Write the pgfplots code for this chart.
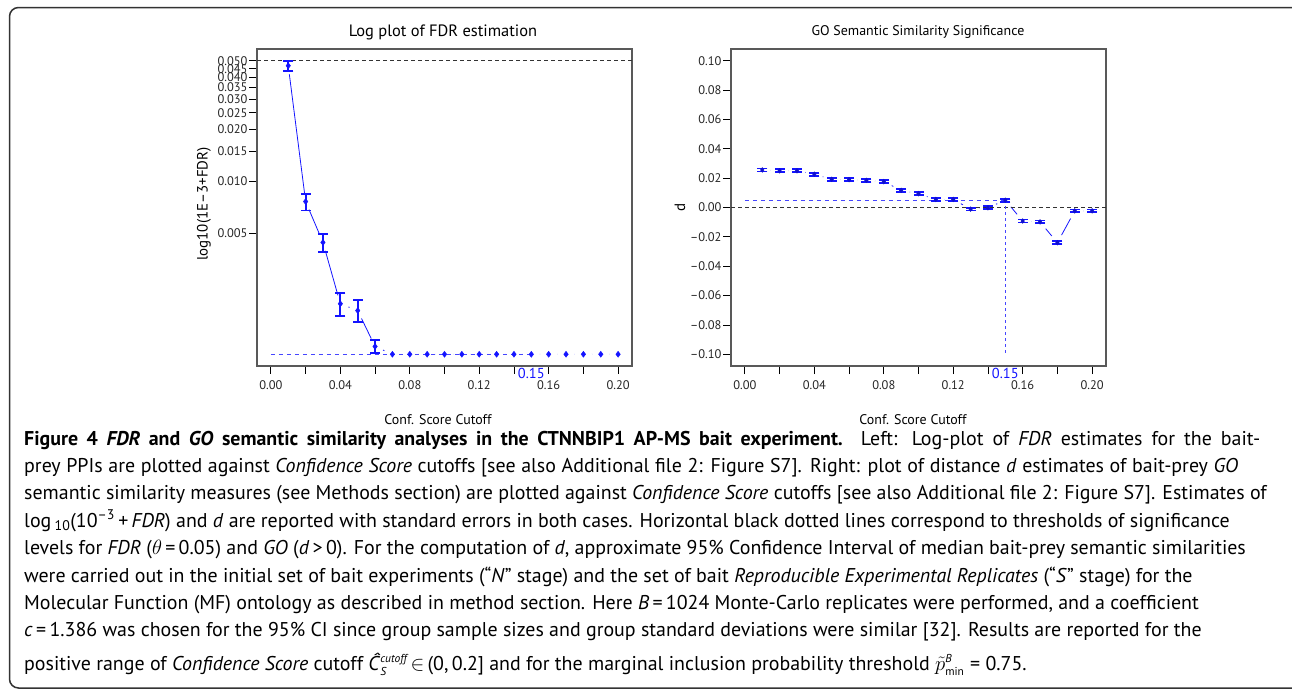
\documentclass[border=0pt]{standalone}
\usepackage{fontspec}
\setmainfont{PT Sans}
\usepackage{pgfplots}
\pgfplotsset{compat=1.18}
\usepackage{pgfplotstable}

\pgfplotstableread{
x y
0.01 0.0468
0.02 0.00766
0.03 0.00444
0.04 0.00196
0.05 0.00179
0.06 0.00111
0.07 0.001
0.08 0.001
0.09 0.001
0.10 0.001
0.11 0.001
0.12 0.001
0.13 0.001
0.14 0.001
0.15 0.001
0.16 0.001
0.17 0.001
0.18 0.001
0.19 0.001
0.20 0.001
}\fdrdata

\pgfplotstableread{
x d lo hi
0.01 0.0256 0.0246 0.0266
0.02 0.0250 0.0240 0.0260
0.03 0.0250 0.0240 0.0260
0.04 0.0227 0.0217 0.0237
0.05 0.0192 0.0182 0.0202
0.06 0.0190 0.0180 0.0200
0.07 0.0185 0.0175 0.0195
0.08 0.0176 0.0166 0.0186
0.09 0.0117 0.0107 0.0127
0.10 0.0094 0.0084 0.0104
0.11 0.0055 0.0045 0.0065
0.12 0.0055 0.0045 0.0065
0.13 -0.0011 -0.0021 -0.0001
0.14 -0.0002 -0.0012 0.0008
0.15 0.0050 0.0040 0.0060
0.16 -0.0092 -0.0102 -0.0082
0.17 -0.0098 -0.0108 -0.0088
0.18 -0.0240 -0.0250 -0.0230
0.19 -0.0023 -0.0033 -0.0013
0.20 -0.0023 -0.0033 -0.0013
}\godata

\newcommand\capfont{\fontsize{20}{24}\selectfont}
\definecolor{plotblue}{RGB}{20,20,255}
\definecolor{refblue}{RGB}{70,70,255}

\pgfplotsset{
  commonaxis/.style={
    scale only axis, width=375bp, height=317bp, anchor=south west,
    clip=false, clip marker paths=true,
    xmin=-0.008, xmax=0.208,
    axis line style={black!65, line width=1.3pt},
    tick align=outside, tick pos=left,
    major tick length=8bp,
    tick style={black, line width=0.8pt},
    xtick={0,0.02,0.04,0.06,0.08,0.1,0.12,0.14,0.16,0.18,0.2},
    xticklabels={0.00,,0.04,,0.08,,0.12,,0.16,,0.20},
    tick label style={font=\fontsize{12.5}{13}\selectfont, text=black!85},
    xticklabel style={yshift=-3bp},
    yticklabel style={xshift=2bp},
    /pgf/number format/assume math mode=true,
  },
  ebar/.style={plotblue, line width=1.8pt, mark=-, mark size=5bp, mark options={solid, line width=1.8pt}},
}

\begin{document}
\begin{tikzpicture}
\useasboundingbox (0,0) rectangle (1292bp,-689bp);

% ---------- left plot ----------
\begin{axis}[commonaxis, at={(257bp,-366bp)},
  ymode=log, ymin=0.000855, ymax=0.0585,
  ytick={0.005,0.01,0.015,0.02,0.025,0.03,0.035,0.04,0.045,0.05},
  yticklabels={0.005,0.010,0.015,0.020,0.025,0.030,0.035,0.040,0.045,0.050},
  yminorticks=false,
]
\addplot[plotblue, line width=0.8pt, mark=none] table[x=x,y=y] {\fdrdata};
\addplot[only marks, mark=*, mark size=8.5bp, white, mark options={fill=white, draw=none}] table[x=x,y=y] {\fdrdata};
\addplot[black!80, line width=0.9pt, dash pattern=on 4bp off 3bp, mark=none] coordinates {(-0.008,0.05) (0.208,0.05)};
\addplot[refblue, line width=0.9pt, dash pattern=on 4bp off 4bp, mark=none] coordinates {(0,0.001) (0.15,0.001)};
\addplot[ebar] coordinates {(0.01,0.0436) (0.01,0.050)};
\addplot[ebar] coordinates {(0.02,0.00679) (0.02,0.00849)};
\addplot[ebar] coordinates {(0.03,0.0039) (0.03,0.00499)};
\addplot[ebar] coordinates {(0.04,0.00167) (0.04,0.00226)};
\addplot[ebar] coordinates {(0.05,0.00153) (0.05,0.00207)};
\addplot[ebar] coordinates {(0.06,0.00102) (0.06,0.00121)};
\addplot[only marks, mark=diamond*, mark size=3bp, plotblue] table[x=x,y=y] {\fdrdata};
\node[text=plotblue, font=\fontsize{14.5}{14.5}\selectfont, inner sep=0pt, anchor=center]
  at (axis cs:0.15,0.000855) [yshift=-7bp] {0.15};
\end{axis}

% ---------- right plot ----------
\begin{axis}[commonaxis, at={(731bp,-366bp)},
  ymin=-0.108, ymax=0.108,
  ytick={-0.1,-0.08,-0.06,-0.04,-0.02,0,0.02,0.04,0.06,0.08,0.1},
  yticklabels={–0.10,–0.08,–0.06,–0.04,–0.02,0.00,0.02,0.04,0.06,0.08,0.10},
]
\addplot[plotblue, line width=0.8pt, mark=none] table[x=x,y=d] {\godata};
\addplot[only marks, mark=*, mark size=8.5bp, white, mark options={fill=white, draw=none}] table[x=x,y=d] {\godata};
\addplot[black!80, line width=0.9pt, dash pattern=on 4bp off 3bp, mark=none] coordinates {(-0.008,0) (0.208,0)};
\addplot[refblue, line width=0.9pt, dash pattern=on 4bp off 4bp, mark=none] coordinates {(0,0.005) (0.15,0.005)};
\addplot[refblue, line width=1.1pt, dash pattern=on 3bp off 3bp, mark=none] coordinates {(0.15,0.005) (0.15,-0.1)};
\addplot[only marks, mark=-, mark size=5bp, plotblue, mark options={line width=1.8pt}] table[x=x,y=lo] {\godata};
\addplot[only marks, mark=-, mark size=5bp, plotblue, mark options={line width=1.8pt}] table[x=x,y=hi] {\godata};
\addplot[only marks, mark=diamond*, mark size=2.4bp, plotblue!80!black] table[x=x,y=d] {\godata};
\node[text=plotblue, font=\fontsize{14.5}{14.5}\selectfont, inner sep=0pt, anchor=center]
  at (axis cs:0.15,-0.108) [yshift=-7bp] {0.15};
\end{axis}

\begin{scope}[x=1bp, y=-1bp]
% frame
\draw[line width=1.5bp, black!80, rounded corners=9bp] (9.5,7.5) rectangle (1320,688);
% titles and labels
\node[font=\fontsize{16.5}{17}\selectfont] at (443,32) {Log plot of FDR estimation};
\node[font=\fontsize{14}{15}\selectfont] at (918,32) {GO Semantic Similarity Significance};
\node[font=\fontsize{14}{15}\selectfont] at (438,420) {Conf. Score Cutoff};
\node[font=\fontsize{14}{15}\selectfont] at (913,420) {Conf. Score Cutoff};
\node[font=\fontsize{15}{15}\selectfont, rotate=90] at (204,204) {log10(1E–3+FDR)};
\node[font=\fontsize{15}{15}\selectfont, rotate=90] at (680,207) {d};
% caption
\begin{scope}[every node/.style={anchor=base west, inner sep=0pt, font=\capfont}]
\node at (24,445) {\makebox[1236bp][s]{\textbf{Figure 4 \textit{FDR} and \textit{GO} semantic similarity analyses in the CTNNBIP1 AP-MS bait experiment.} Left: Log-plot of \textit{FDR} estimates for the bait-}};
\node at (24,472.4) {\makebox[1214bp][s]{prey PPIs are plotted against \textit{Confidence Score} cutoffs [see also Additional file 2: Figure S7]. Right: plot of distance \textit{d} estimates of bait-prey \textit{GO}}};
\node at (24,499.8) {semantic similarity measures (see Methods section) are plotted against \textit{Confidence Score} cutoffs [see also Additional file 2: Figure S7]. Estimates of};
\node at (24,527.2) {log\,\textsubscript{10}(10\textsuperscript{–3}\,+\,\textit{FDR}) and \textit{d} are reported with standard errors in both cases. Horizontal black dotted lines correspond to thresholds of significance};
\node at (24,554.6) {levels for \textit{FDR} ($\theta$\,=\,0.05) and \textit{GO} (\textit{d}\,>\,0). For the computation of \textit{d}, approximate 95\% Confidence Interval of median bait-prey semantic similarities};
\node at (24,582) {were carried out in the initial set of bait experiments (“\textit{N}” stage) and the set of bait \textit{Reproducible Experimental Replicates} (“\textit{S}” stage) for the};
\node at (24,609.4) {Molecular Function (MF) ontology as described in method section. Here \textit{B}\,=\,1024 Monte-Carlo replicates were performed, and a coefficient};
\node at (24,636.8) {\textit{c}\,=\,1.386 was chosen for the 95\% CI since group sample sizes and group standard deviations were similar [32]. Results are reported for the};
\node at (24,670) {positive range of \textit{Confidence Score} cutoff \textit{Ĉ}$^{\mbox{\fontsize{11.5}{11.5}\itshape cutoff}}_{\mbox{\fontsize{11.5}{11.5}\itshape S}}$\,$\in$\,(0,\,0.2] and for the marginal inclusion probability threshold $\tilde{p}^{\mbox{\fontsize{11.5}{11.5}\itshape B}}_{\mbox{\fontsize{11.5}{11.5}\selectfont min}}$\;=\;0.75.};
\end{scope}
\end{scope}
\end{tikzpicture}
\end{document}
